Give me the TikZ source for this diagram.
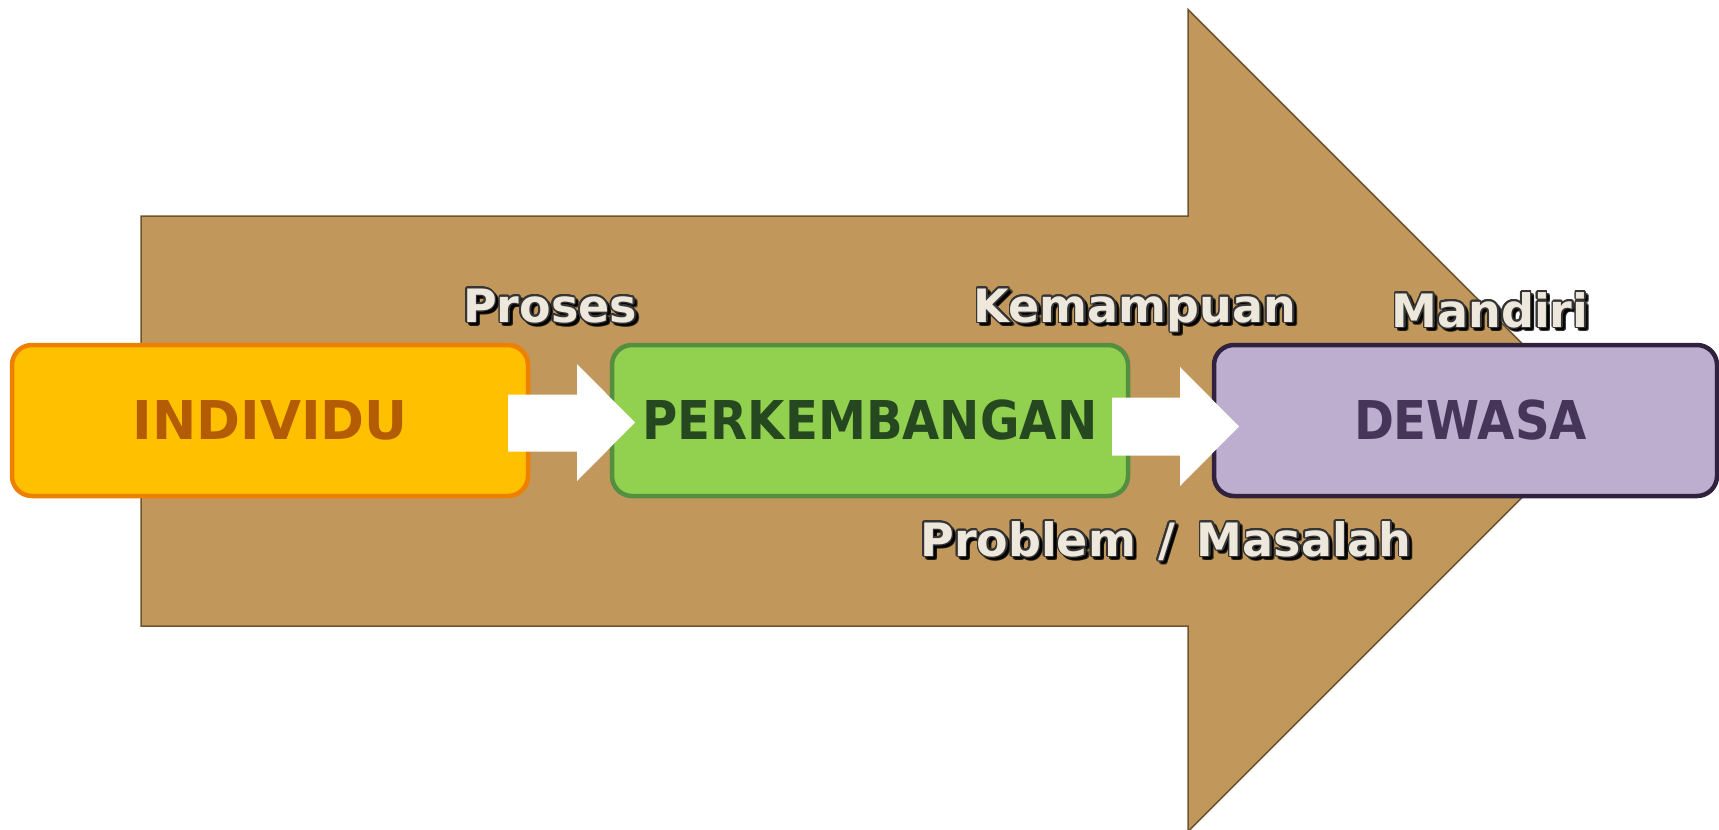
\documentclass[tikz,border=0pt]{standalone}
\usepackage{fontspec}
\usepackage{graphicx}
\usepackage[copies]{contour}
\newfontfamily\boxfont[FakeStretch=0.9]{DejaVu Sans}
\newfontfamily\labfont{DejaVu Sans}
\contourlength{1.6pt}
\contournumber{20}
\definecolor{arrowfill}{HTML}{C1975B}
\definecolor{arrowdraw}{HTML}{6E5530}
\definecolor{indfill}{HTML}{FFC000}
\definecolor{inddraw}{HTML}{EE8000}
\definecolor{indtext}{HTML}{B35C04}
\definecolor{perfill}{HTML}{92D050}
\definecolor{perdraw}{HTML}{548E3F}
\definecolor{pertext}{HTML}{264821}
\definecolor{dewfill}{HTML}{BDADCF}
\definecolor{dewdraw}{HTML}{30223F}
\definecolor{dewtext}{HTML}{463459}
\definecolor{labfill}{HTML}{EEE8DC}
\definecolor{labline}{HTML}{353535}
\newcommand{\outlinedlabel}[1]{\textcolor{labfill}{\contour{labline}{#1}}}
\newcommand{\shadowlabel}[1]{\textcolor{black}{\contour{black}{#1}}}
\begin{document}
\begin{tikzpicture}[x=1pt,y=-1pt,
  bigarrow/.style={fill=arrowfill,draw=arrowdraw,line width=1.5pt,line join=miter},
  stagebox/.style={rectangle,rounded corners=20pt,line width=4.5pt,minimum width=516pt,minimum height=151pt,inner sep=0pt,font=\boxfont\bfseries\fontsize{53.5}{60}\selectfont},
  whitearrow/.style={fill=white,draw=none},
  lab/.style={font=\labfont\bfseries\fontsize{46}{52}\selectfont,inner sep=0pt,anchor=base},
  labshadow/.style={lab,text opacity=0.28}
]
\useasboundingbox (0,0) rectangle (1719,830);
% big background arrow
\draw[bigarrow] (141,216) -- (1188,216) -- (1188,9.5) -- (1599,420.5) -- (1188,831.5) -- (1188,626) -- (141,626) -- cycle;
% stage boxes
\node[stagebox,fill=indfill,draw=inddraw,text=indtext] (ind) at (270,420.5) {\scalebox{1.1}[1]{INDIVIDU}};
\node[stagebox,fill=perfill,draw=perdraw,text=pertext] (per) at (870,420.5) {PERKEMBANGAN};
\node[stagebox,fill=dewfill,draw=dewdraw,text=dewtext,minimum width=503pt] (dew) at (1465.5,420.5) {\hspace*{10pt}DEWASA};
% white block arrows
\draw[whitearrow] (508,394.5) -- (577,394.5) -- (577,364) -- (635,422.5) -- (577,481) -- (577,451.5) -- (508,451.5) -- cycle;
\draw[whitearrow] (1112,397.5) -- (1180,397.5) -- (1180,367) -- (1239,426.5) -- (1180,486) -- (1180,455.5) -- (1112,455.5) -- cycle;
% label shadows
\node[labshadow] (sproses) at (553,325) {\shadowlabel{Proses}};
\node[labshadow] (skemampuan) at (1138,325) {\shadowlabel{Kemampuan}};
\node[labshadow] (smandiri) at (1493,330) {\shadowlabel{Mandiri}};
\node[labshadow] (sproblem) at (1169,559) {\shadowlabel{Problem\hspace{6pt} /\hspace{6pt} Masalah}};
% labels
\node[lab] (proses) at (550,322) {\outlinedlabel{Proses}};
\node[lab] (kemampuan) at (1135,322) {\outlinedlabel{Kemampuan}};
\node[lab] (mandiri) at (1490,327) {\outlinedlabel{Mandiri}};
\node[lab] (problem) at (1166,556) {\outlinedlabel{Problem\hspace{6pt} /\hspace{6pt} Masalah}};
\end{tikzpicture}
\end{document}
